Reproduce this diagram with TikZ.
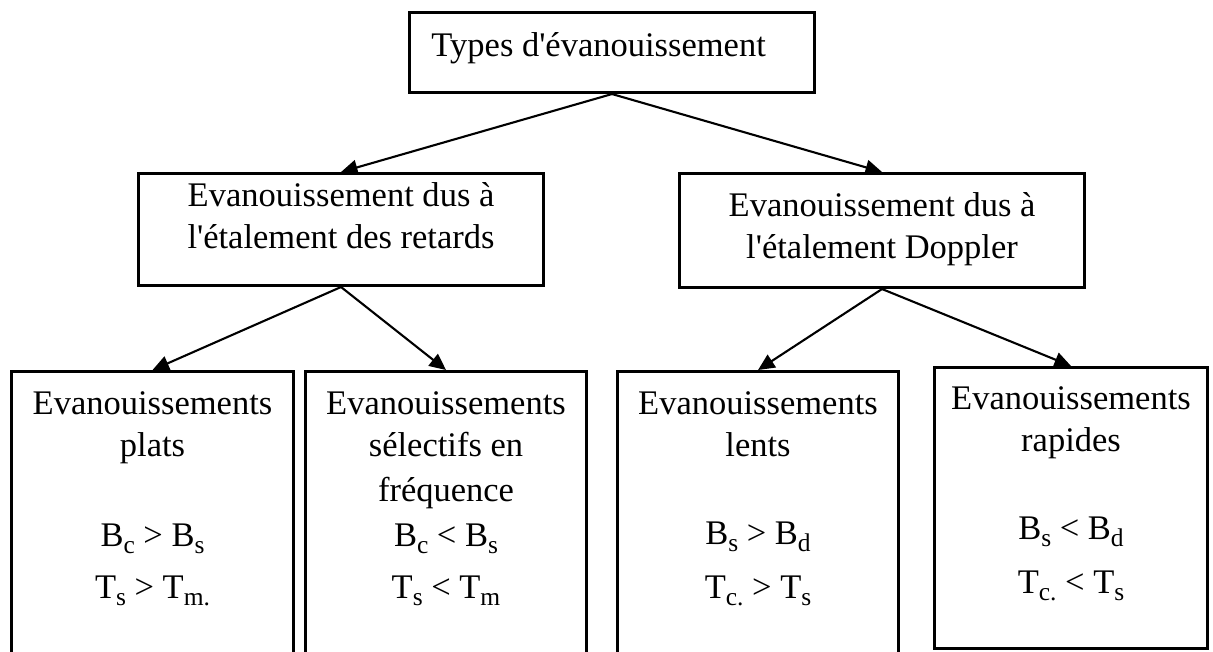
\documentclass[tikz,border=0pt]{standalone}
\usepackage{fontspec}
\setmainfont{Liberation Serif}[Ligatures=TeXOff]
\usetikzlibrary{arrows.meta}

\tikzset{
  fading/.style={
    x=0.3333pt, y=-0.3333pt,
    every node/.style={
        draw,
        line width=1pt,
        anchor=north west,
        inner sep=0pt,
        align=flush center,
        font=\fontsize{11.5pt}{14pt}\selectfont,
    },
    kind/.style={
        text width=135pt,
    },
    leaf/.style={
        text height=14.33pt,
        text depth=95.67pt,
    },
    link/.style={
        line width=0.7pt,
        -{Triangle[length=5.5pt,width=5pt]},
    }
  }
}
\newcommand{\idx}[1]{\raisebox{-2.4pt}{\fontsize{8.5pt}{8.5pt}\selectfont #1}}

\begin{document}
\begin{tikzpicture}[fading]
            \useasboundingbox (0,0) rectangle (1213,651);
            \clip (0,0) rectangle (1213,651);
            % root
            \node[align=flush left, text width=120.33pt, inner xsep=7.33pt,
                text height=14.67pt, text depth=12pt] (types) at (408,11)
                {Types d'évanouissement};
            % second level
            \node[kind, text height=11pt, text depth=26.33pt] (delay) at (137,172)
                {Evanouissement dus à\\l'étalement des retards};
            \node[kind, text height=14.33pt, text depth=23.67pt] (doppler) at (678,172)
                {Evanouissement dus à\\l'étalement Doppler};
            % leaves
            \node[leaf, text width=94pt] (flat) at (10,370)
                {Evanouissements\\plats\\[16pt]
                 B\idx{c} > B\idx{s}\\[3.33pt]
                 T\idx{s} > T\idx{m.}};
            \node[leaf, text width=93.67pt] (selective) at (304,370)
                {Evanouissements\\sélectifs en\\[1pt]fréquence\\[1pt]
                 B\idx{c} < B\idx{s}\\[3.33pt]
                 T\idx{s} < T\idx{m}};
            \node[leaf, text width=93.67pt] (slow) at (616,370)
                {Evanouissements\\lents\\[15.33pt]
                 B\idx{s} > B\idx{d}\\[4pt]
                 T\idx{c.} > T\idx{s}};
            \node[text width=91pt, text height=14pt, text depth=79.67pt] (fast) at (933,366)
                {Evanouissements\\rapides\\[15.33pt]
                 B\idx{s} < B\idx{d}\\[4pt]
                 T\idx{c.} < T\idx{s}};
            % arrows
            \draw[link] (types.south) -- (delay.north);
            \draw[link] (types.south) -- (doppler.north);
            \draw[link] (delay.south) -- (flat.north);
            \draw[link] (delay.south) -- (selective.north);
            \draw[link] (doppler.south) -- (slow.north);
            \draw[link] (doppler.south) -- (fast.north);
        \end{tikzpicture}
\end{document}
